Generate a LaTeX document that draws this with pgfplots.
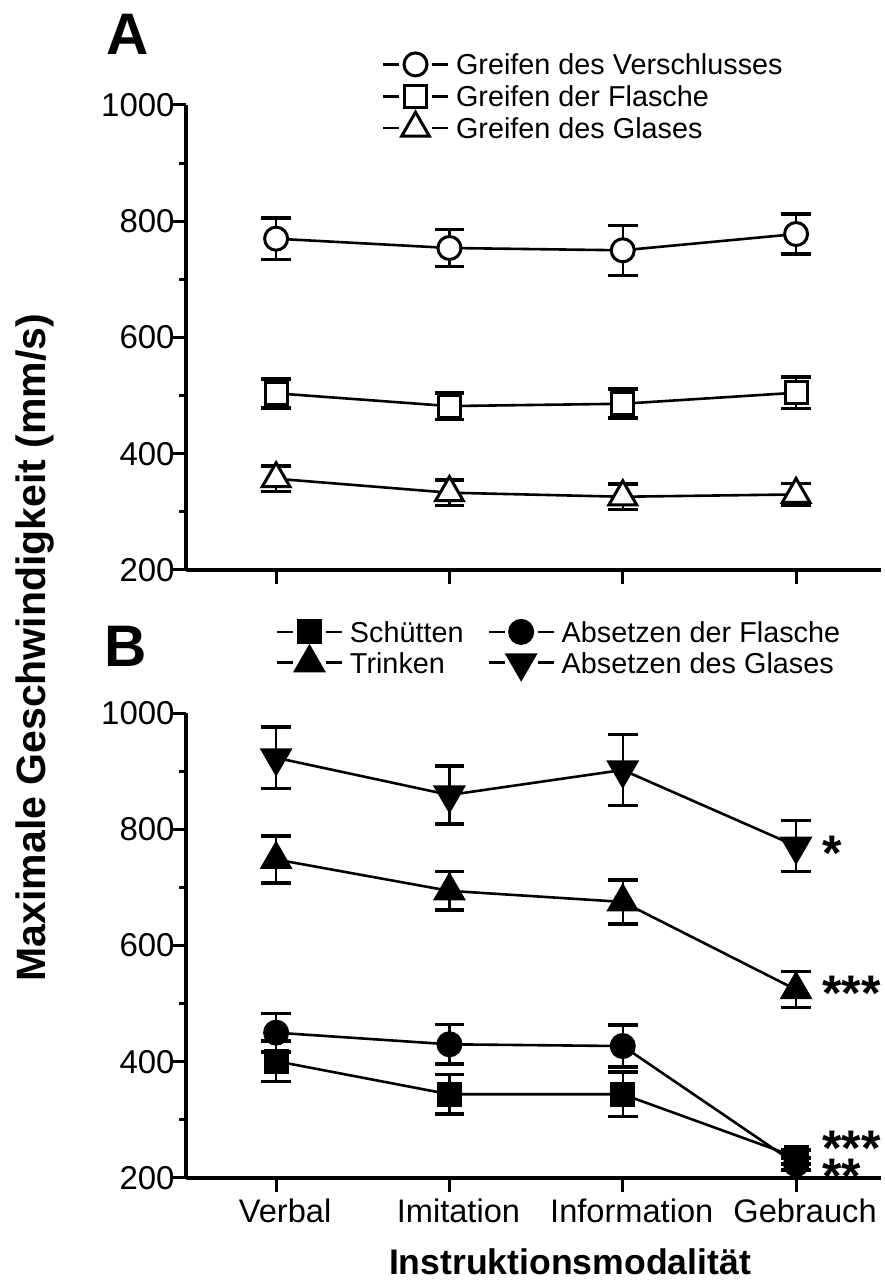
\documentclass[border=0pt]{standalone}
\usepackage{fontspec}
\setmainfont{Liberation Sans}
\usepackage{pgfplots}
\usepackage{pgfplotstable}
\pgfplotsset{compat=1.18}

% Panel A
\pgfplotstableread{
x y e
0 770 36
1 754 32
2 750 43
3 778 34
}\Averschluss
\pgfplotstableread{
x y e
0 504 25
1 482 23
2 486 25
3 505 27
}\Aflasche
\pgfplotstableread{
x y e
0 357 22
1 333 22
2 326 22
3 330 19
}\Aglas
% Panel B
\pgfplotstableread{
x y e
0 401 35
1 344 34
2 344 38
3 236 12
}\Bschuetten
\pgfplotstableread{
x y e
0 450 33
1 430 34
2 427 36
3 224 10
}\Bflasche
\pgfplotstableread{
x y e
0 748 40
1 694 33
2 675 38
3 524 31
}\Btrinken
\pgfplotstableread{
x y e
0 923 53
1 859 50
2 902 61
3 771 44
}\Bglas

\newcommand{\stars}[1]{\raisebox{-9.5pt}[9pt][0pt]{#1}}

\pgfplotsset{
  panel/.style={
    scale only axis, width=347.5pt, height=232.5pt,
    xmin=-0.52, xmax=3.49, ymin=200, ymax=1000,
    axis x line=bottom, axis y line=left,
    axis line style={line width=2pt,-},
    xtick={0,1,2,3}, ytick={200,400,600,800,1000}, minor ytick={300,500,700,900},
    yticklabel={\hbox{\fontsize{16.5}{19}\selectfont\pgfmathprintnumber[assume math mode=true,1000 sep={}]{\tick}}},
    tick align=outside, major tick length=7pt, minor tick length=3.5pt,
    tick style={black, line width=1.5pt},
    clip=false,
    yticklabel style={font=\fontsize{16.5}{19}\selectfont, inner sep=0pt, xshift=1.5pt},
    xticklabel style={font=\fontsize{16.3}{19}\selectfont, xshift=4.5pt},
    legend cell align=left,
  },
  dat/.style={black, line width=1.3pt,
    error bars/y dir=both, error bars/y explicit,
    error bars/error mark=|,
    error bars/error bar style={line width=1.2pt, solid},
    error bars/error mark options={line width=1.8pt, mark size=7.4pt, solid}},
}

\begin{document}
\begin{tikzpicture}
\useasboundingbox (0,0) rectangle (442pt,640pt);

\begin{axis}[panel, at={(93pt,355pt)}, anchor=south west,
  xticklabels={},
  legend image code/.code={%
    \begin{pgfinterruptboundingbox}
    \draw[mark repeat=2,mark phase=2,#1,dash pattern=on 8pt off 16.5pt on 8pt] plot coordinates {(0pt,0pt) (16.25pt,0pt) (32.5pt,0pt)};
    \end{pgfinterruptboundingbox}
    \path[draw=none, fill=none] (0pt,-3pt) rectangle (32.5pt,3pt);
  },
  legend style={draw=none, fill=none, inner sep=0pt, outer sep=0pt,
    at={(0.2835,1.1097)}, anchor=north west,
    font=\fontsize{14.4}{17}\selectfont,
    nodes={inner sep=0pt, text depth=0pt}, row sep=5.5pt,
    /tikz/every odd column/.append style={column sep=4pt}},
]
\addplot[dat, mark=*, mark options={solid, fill=white, line width=1.5pt, mark size=5.75pt}]
  table[x=x, y=y, y error=e] {\Averschluss};
\addlegendentry{Greifen des Verschlusses}
\addplot[dat, mark=square*, mark options={solid, fill=white, line width=1.5pt, mark size=5.5pt}]
  table[x=x, y=y, y error=e] {\Aflasche};
\addlegendentry{Greifen der Flasche}
\addplot[dat, mark=triangle*, mark options={solid, fill=white, line width=1.5pt, mark size=8pt}]
  table[x=x, y=y, y error=e] {\Aglas};
\addlegendentry{Greifen des Glases}
\end{axis}

\begin{axis}[panel, at={(93pt,51pt)}, anchor=south west,
  xticklabels={Verbal,Imitation,Information,Gebrauch},
  legend columns=2,
  legend image code/.code={%
    \begin{pgfinterruptboundingbox}
    \draw[mark repeat=2,mark phase=2,#1,dash pattern=on 8pt off 16.5pt on 8pt] plot coordinates {(0pt,0pt) (16.25pt,0pt) (32.5pt,0pt)};
    \end{pgfinterruptboundingbox}
    \path[draw=none, fill=none] (0pt,-3pt) rectangle (32.5pt,3pt);
  },
  legend style={draw=none, fill=none, inner sep=0pt, outer sep=0pt,
    at={(0.1309,1.1968)}, anchor=north west,
    font=\fontsize{14.4}{17}\selectfont,
    nodes={inner sep=0pt, text depth=0pt}, row sep=5pt,
    /tikz/every odd column/.append style={column sep=4pt},
    /tikz/every even column/.append style={column sep=12.5pt}},
]
\addplot[dat, mark=square*, mark options={solid, fill=black, line width=1.5pt, mark size=5.5pt}]
  table[x=x, y=y, y error=e] {\Bschuetten};
\addlegendentry{Schütten}
\addplot[dat, mark=*, mark options={solid, fill=black, line width=1.5pt, mark size=5.75pt}]
  table[x=x, y=y, y error=e] {\Bflasche};
\addlegendentry{Absetzen der Flasche}
\addplot[dat, mark=triangle*, mark options={solid, fill=black, line width=1.5pt, mark size=8pt}]
  table[x=x, y=y, y error=e] {\Btrinken};
\addlegendentry{Trinken}
\addplot[dat, mark=triangle*, mark options={solid, fill=black, line width=1.5pt, mark size=8pt, rotate=180}]
  table[x=x, y=y, y error=e] {\Bglas};
\addlegendentry{Absetzen des Glases}

\node[anchor=base west, inner sep=0pt, font=\bfseries\fontsize{25}{25}\selectfont, yshift=-4pt] at (axis cs:3.15,775) {\stars{*}};
\node[anchor=base west, inner sep=0pt, font=\bfseries\fontsize{25}{25}\selectfont, yshift=-4pt] at (axis cs:3.15,534) {\stars{***}};
\node[anchor=base west, inner sep=0pt, font=\bfseries\fontsize{25}{25}\selectfont, yshift=-4pt] at (axis cs:3.15,268) {\stars{***}};
\node[anchor=base west, inner sep=0pt, font=\bfseries\fontsize{25}{25}\selectfont, yshift=-4pt] at (axis cs:3.15,219) {\stars{**}};
\end{axis}

\node[anchor=base west, inner sep=0pt, font=\bfseries\fontsize{29.3}{30}\selectfont] at (53pt,612.5pt) {A};
\node[anchor=base west, inner sep=0pt, font=\bfseries\fontsize{29.3}{30}\selectfont] at (52pt,306.5pt) {B};
\node[anchor=base, rotate=90, inner sep=0pt, font=\bfseries\fontsize{20.5}{22}\selectfont] at (22.5pt,316.25pt) {Maximale Geschwindigkeit (mm/s)};
\node[anchor=base, inner sep=0pt, font=\bfseries\fontsize{17.8}{20}\selectfont] at (285pt,2.5pt) {Instruktionsmodalität};
\end{tikzpicture}
\end{document}
